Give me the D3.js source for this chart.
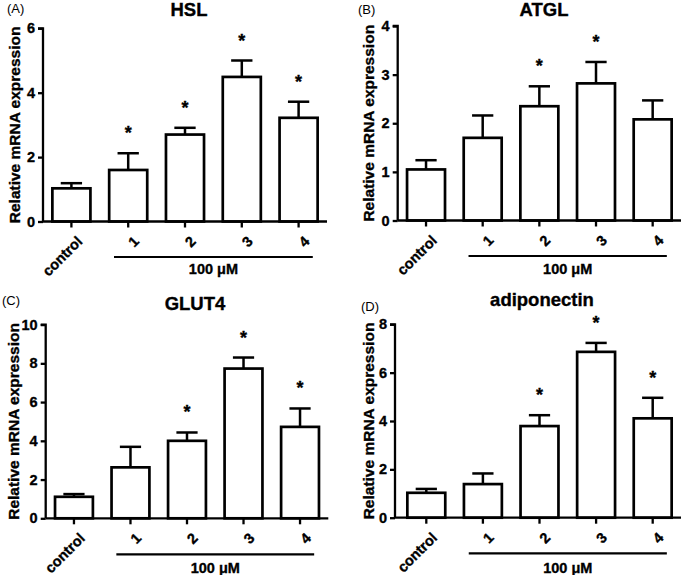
<!DOCTYPE html>
<html>
<head>
<meta charset="utf-8">
<script src="https://cdn.jsdelivr.net/npm/d3@7"></script>
<style>
  body { margin: 0; background: #fff; }
  svg { display: block; }
  text { font-family: "Liberation Sans", Arial, Helvetica, sans-serif; fill: #000; }
  text.heavy { stroke: #000; stroke-width: 0.35px; }
</style>
</head>
<body>
<svg id="chart" width="682" height="575"></svg>
<script>
// ---- data ----
const categories = ["control", "1", "2", "3", "4"];
const treatmentLabel = "100 \u03BCM";

const hslMean   = [1.03, 1.60, 2.70, 4.49, 3.22];
const hslSem    = [0.16, 0.52, 0.21, 0.51, 0.50];
const hslSig    = [false, true, true, true, true];
const hslTicks  = [0, 2, 4, 6];

const atglMean  = [1.05, 1.70, 2.35, 2.82, 2.08];
const atglSem   = [0.19, 0.46, 0.41, 0.44, 0.39];
const atglSig   = [false, false, true, true, false];
const atglTicks = [0, 1, 2, 3, 4];

const glutMean  = [1.11, 2.63, 4.00, 7.73, 4.72];
const glutSem   = [0.14, 1.06, 0.43, 0.57, 0.95];
const glutSig   = [false, false, true, true, true];
const glutTicks = [0, 2, 4, 6, 8, 10];

const adipoMean  = [1.03, 1.39, 3.79, 6.86, 4.11];
const adipoSem   = [0.16, 0.44, 0.45, 0.37, 0.85];
const adipoSig   = [false, false, true, true, true];
const adipoTicks = [0, 2, 4, 6, 8];

const yLabel = "Relative mRNA expression";

// ---- layout (positions only) ----
const panels = [
  { tag: "(A)", title: "HSL", mean: hslMean, sem: hslSem, sig: hslSig, ticks: hslTicks,
    axisX: 43, x0: 43, x1: 327, y0: 221.5, yTop: 28.3,
    tagX: 7, tagY: 13, titleX: 189, titleY: 16, ylabX: 15, bracketY: 257, labelY: 274 },
  { tag: "(B)", title: "ATGL", mean: atglMean, sem: atglSem, sig: atglSig, ticks: atglTicks,
    axisX: 397.7, x0: 397.7, x1: 681, y0: 220.5, yTop: 26,
    tagX: 358, tagY: 14, titleX: 544, titleY: 16, ylabX: 369, bracketY: 256, labelY: 274 },
  { tag: "(C)", title: "GLUT4", mean: glutMean, sem: glutSem, sig: glutSig, ticks: glutTicks,
    axisX: 45.7, x0: 45.7, x1: 328.3, y0: 518.3, yTop: 324.6,
    tagX: 2, tagY: 305, titleX: 195, titleY: 310, ylabX: 13.5, bracketY: 554.3, labelY: 573 },
  { tag: "(D)", title: "adiponectin", mean: adipoMean, sem: adipoSem, sig: adipoSig, ticks: adipoTicks,
    axisX: 395, x0: 398, x1: 681, y0: 517.7, yTop: 324.3,
    tagX: 361, tagY: 311, titleX: 542, titleY: 306, ylabX: 369, bracketY: 553.3, labelY: 573 }
];

const svg = d3.select("#chart");
const FONT = "'Liberation Sans', Arial, sans-serif";

panels.forEach(p => {
  const g = svg.append("g");
  const yMax = p.ticks[p.ticks.length - 1];
  const x = d3.scaleBand().domain(categories).range([p.x0, p.x1]).paddingInner(0.33).paddingOuter(0.165);
  const y = d3.scaleLinear().domain([0, yMax]).range([p.y0, p.yTop]);
  const bw = x.bandwidth();
  const step = x.step();

  // bars
  g.selectAll("rect.bar").data(categories).enter().append("rect")
    .attr("x", d => x(d))
    .attr("y", (d, i) => y(p.mean[i]))
    .attr("width", bw)
    .attr("height", (d, i) => p.y0 - y(p.mean[i]))
    .attr("fill", "#fff").attr("stroke", "#000").attr("stroke-width", 2.7);

  // error bars (upper only)
  const cap = bw * 0.56;
  categories.forEach((c, i) => {
    const cx = x(c) + bw / 2;
    const top = y(p.mean[i] + p.sem[i]);
    g.append("line").attr("x1", cx).attr("x2", cx).attr("y1", y(p.mean[i])).attr("y2", top)
      .attr("stroke", "#000").attr("stroke-width", 2.5);
    g.append("line").attr("x1", cx - cap / 2).attr("x2", cx + cap / 2).attr("y1", top).attr("y2", top)
      .attr("stroke", "#000").attr("stroke-width", 2.5);
    if (p.sig[i]) {
      g.append("text").attr("class", "heavy").attr("x", cx).attr("y", top - 14)
        .attr("text-anchor", "middle").attr("font-size", 18).attr("font-weight", "bold").text("*");
    }
  });

  // y axis
  const yAxis = d3.axisLeft(y).tickValues(p.ticks).tickSize(5).tickPadding(3).tickFormat(d3.format("d"));
  const ya = g.append("g").attr("transform", `translate(${p.axisX},0)`).call(yAxis);
  ya.select(".domain").attr("d", `M-5,${p.yTop}H0V${p.y0}`).attr("stroke-width", 2.3);
  ya.selectAll(".tick line").attr("stroke-width", 2.3);
  ya.selectAll(".tick text").attr("class", "heavy").attr("font-size", 14.5).attr("font-weight", "bold")
    .style("font-family", FONT);

  // x axis
  const xAxis = d3.axisBottom(x).tickSize(6).tickPadding(4);
  const xa = g.append("g").attr("transform", `translate(0,${p.y0})`).call(xAxis);
  xa.select(".domain").attr("d", `M${p.axisX},0H${p.x1}`).attr("stroke-width", 2.3);
  xa.selectAll(".tick line").attr("stroke-width", 2.3);
  xa.selectAll(".tick text")
    .attr("class", "heavy")
    .attr("font-size", 14.5).attr("font-weight", "bold")
    .style("font-family", FONT)
    .attr("text-anchor", "end")
    .attr("dy", "0.35em")
    .attr("transform", "translate(4,13) rotate(-45)")
    .attr("y", 6).attr("x", 0);

  // treatment bracket
  const bx1 = x(categories[1]) + bw / 2 - step * 0.25;
  const bx2 = x(categories[4]) + bw / 2 + step * 0.25;
  g.append("line").attr("x1", bx1).attr("x2", bx2).attr("y1", p.bracketY).attr("y2", p.bracketY)
    .attr("stroke", "#000").attr("stroke-width", 2.2);
  g.append("text").attr("class", "heavy").attr("x", (bx1 + bx2) / 2).attr("y", p.labelY)
    .attr("text-anchor", "middle").attr("font-size", 14.5).attr("font-weight", "bold").text(treatmentLabel);

  // y label
  g.append("text").attr("class", "heavy")
    .attr("transform", `translate(${p.ylabX},${(p.y0 + p.yTop) / 2}) rotate(-90)`)
    .attr("text-anchor", "middle").attr("dy", "0.35em")
    .attr("font-size", 15.5).attr("font-weight", "bold").text(yLabel);

  // title
  g.append("text").attr("class", "heavy").attr("x", p.titleX).attr("y", p.titleY).attr("text-anchor", "middle")
    .attr("font-size", 18.5).attr("font-weight", "bold").text(p.title);

  // panel tag
  g.append("text").attr("x", p.tagX).attr("y", p.tagY).attr("font-size", 13).text(p.tag);
});
</script>
</body>
</html>
